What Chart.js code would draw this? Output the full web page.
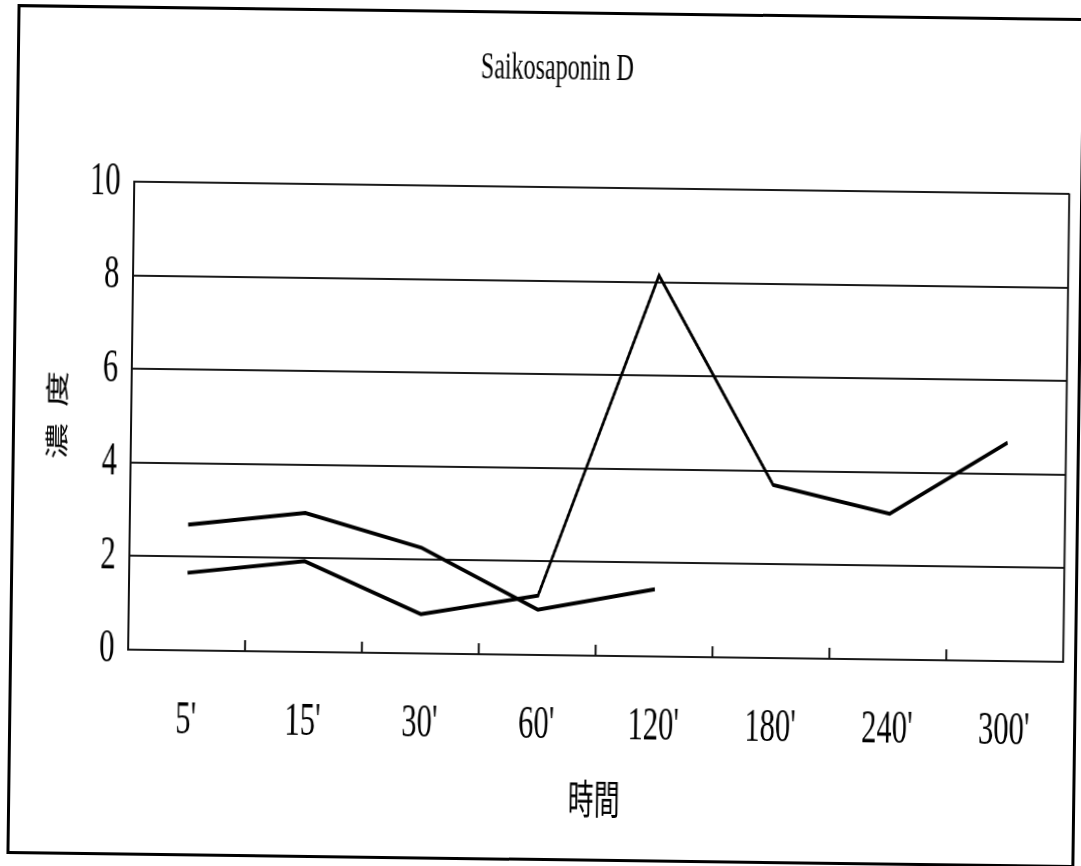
<!doctype html>
<html lang="zh-Hant">
    <head>
        <meta charset="utf-8">
        <title>Saikosaponin D</title>
        <script src="https://cdn.jsdelivr.net/npm/chart.js@4"></script>
        <style>
        html, body {
            margin: 0;
            padding: 0;
            background-color: #ffffff;
        }
        #sheet {
            position: relative;
            width: 1081px;
            height: 866px;
            transform: rotate(0.75deg);
            transform-origin: 50% 50%;
        }
        #frame {
            position: absolute;
            left: 12px;
            top: 11px;
            width: 1068px;
            height: 850px;
            box-sizing: border-box;
            border: 3px solid #000;
        }
        /* drawn wide and squeezed back to 1081px so the lettering comes out narrow */
        #chart {
            position: absolute;
            left: 0;
            top: 0;
            width: 1081px !important;
            height: 866px !important;
        }
        </style>
    </head>
    <body>
        <div id="sheet">
            <div id="frame"></div>
            <canvas id="chart" width="1663" height="866"></canvas>
        </div>
        <script>
        const categories = ["5'", "15'", "30'", "60'", "120'", "180'", "240'", "300'"];
        const seriesA = [1.66, 1.94, 0.84, 1.27, 8.15, 3.7, 3.12, 4.67];
        const seriesB = [2.69, 2.97, 2.26, 0.97, 1.44, null, null, null];
        const yTicks = [0, 2, 4, 6, 8, 10];

        const serif = "'Liberation Serif', 'DejaVu Serif', serif";
        const cjk = "'Noto Sans CJK TC', 'Noto Sans CJK SC', sans-serif";

        // closes the plot box on the right and puts short ticks inside, between the categories
        const frameBits = {
            id: 'frameBits',
            afterDatasetsDraw(chart) {
                const ctx = chart.ctx;
                const area = chart.chartArea;
                const x = chart.scales.x;
                ctx.save();
                ctx.strokeStyle = '#111';
                ctx.lineWidth = 3;
                ctx.beginPath();
                ctx.moveTo(area.right, area.top - 1);
                ctx.lineTo(area.right, area.bottom + 1);
                for (let i = 0; i < categories.length - 1; i++) {
                    const xb = (x.getPixelForValue(i) + x.getPixelForValue(i + 1)) / 2;
                    ctx.moveTo(xb, area.bottom);
                    ctx.lineTo(xb, area.bottom - 11);
                }
                ctx.stroke();
                ctx.restore();
            }
        };

        new Chart(document.getElementById('chart'), {
            type: 'line',
            data: {
                labels: categories,
                datasets: [{
                    data: seriesA,
                    borderColor: '#000',
                    borderWidth: 4,
                    pointRadius: 0,
                    tension: 0
                }, {
                    data: seriesB,
                    borderColor: '#000',
                    borderWidth: 4,
                    pointRadius: 0,
                    tension: 0,
                    spanGaps: false
                }]
            },
            options: {
                responsive: false,
                animation: false,
                devicePixelRatio: 1,
                layout: {
                    padding: { left: 60, right: 23, top: 0, bottom: 0 }
                },
                plugins: {
                    legend: { display: false },
                    tooltip: { enabled: false },
                    title: {
                        display: true,
                        text: 'Saikosaponin D',
                        color: '#000',
                        font: { family: serif, size: 37, weight: 'normal' },
                        padding: { top: 47, bottom: 96 }
                    }
                },
                scales: {
                    x: {
                        type: 'category',
                        offset: true,
                        grid: { display: false },
                        border: { display: false },
                        ticks: {
                            color: '#000',
                            padding: 34,
                            font: { family: serif, size: 47 }
                        },
                        title: {
                            display: true,
                            text: '時間',
                            color: '#000',
                            font: { family: cjk, size: 40 },
                            padding: { top: 0, bottom: 44 }
                        },
                        afterFit(scale) {
                            scale.height = 211;
                        }
                    },
                    y: {
                        min: 0,
                        max: 10,
                        afterBuildTicks(scale) {
                            scale.ticks = yTicks.map(v => ({ value: v }));
                        },
                        grid: {
                            color: '#1a1a1a',
                            lineWidth: 2,
                            drawTicks: false
                        },
                        border: { display: true, color: '#111', width: 3 },
                        ticks: {
                            color: '#000',
                            padding: 21,
                            font: { family: serif, size: 47 }
                        },
                        title: {
                            display: true,
                            text: '濃  度',
                            color: '#000',
                            font: { family: cjk, size: 36 },
                            padding: { top: 6, bottom: 0 }
                        },
                        afterFit(scale) {
                            scale.width = 141.5;
                        }
                    }
                }
            },
            plugins: [frameBits]
        });
        </script>
    </body>
</html>
